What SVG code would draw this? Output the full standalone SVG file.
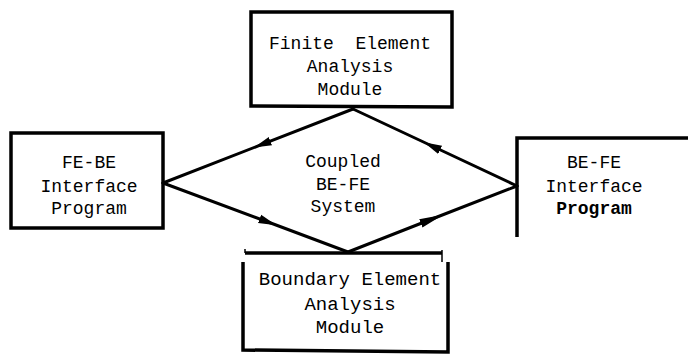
<svg xmlns="http://www.w3.org/2000/svg" width="688" height="358" viewBox="0 0 688 358">
  <style>
    .box { fill: none; stroke: #000; stroke-width: 3.5; stroke-linejoin: miter; }
    .edge { fill: none; stroke: #000; stroke-width: 3; stroke-linecap: round; }
    .lbl { font-family: "Liberation Mono", "Courier New", monospace; font-size: 18px; fill: #000; text-anchor: middle; white-space: pre; }
    .big { font-size: 19px; }
    .heavy { font-weight: bold; }
  </style>
  <defs>
    <marker id="arrow" viewBox="0 0 18 12" refX="9" refY="6" markerWidth="18" markerHeight="12" markerUnits="userSpaceOnUse" orient="auto">
      <path d="M0,1.5 L18,6 L0,10.5 Z" fill="#000"/>
    </marker>
    <marker id="arrowLong" viewBox="0 0 24 12" refX="12" refY="6" markerWidth="24" markerHeight="12" markerUnits="userSpaceOnUse" orient="auto">
      <path d="M0,1.5 L24,6 L0,10.5 Z" fill="#000"/>
    </marker>
  </defs>

  <rect width="688" height="358" fill="#fff"/>

  <!-- connectors: the four sides of the coupling loop -->
  <g id="connectors">
    <path class="edge" d="M353,109 L262,144.4 L163,183" marker-mid="url(#arrow)"/>
    <path class="edge" d="M163,183 L268,222 L348,252" marker-mid="url(#arrow)"/>
    <path class="edge" d="M348,252 L432,219 L517,186" marker-mid="url(#arrowLong)"/>
    <path class="edge" d="M517,186 L432,146 L353,109" marker-mid="url(#arrow)"/>
  </g>

  <g id="fe-module">
    <path class="box" d="M251,12 L452,12 L452,107 L251,106 Z"/>
    <text class="lbl" x="350" y="49">Finite  Element</text>
    <text class="lbl" x="350" y="72">Analysis</text>
    <text class="lbl" x="350" y="95">Module</text>
  </g>

  <g id="fe-be-interface">
    <rect class="box" x="11" y="133" width="152" height="95"/>
    <text class="lbl" x="89" y="168">FE-BE</text>
    <text class="lbl" x="89" y="192">Interface</text>
    <text class="lbl" x="89" y="214">Program</text>
  </g>

  <g id="coupled-system">
    <text class="lbl" x="343" y="167">Coupled</text>
    <text class="lbl" x="343" y="190">BE-FE</text>
    <text class="lbl" x="343" y="212">System</text>
  </g>

  <g id="be-fe-interface">
    <path class="box" d="M692,138 L517,138 L517,237"/>
    <text class="lbl" x="594" y="168">BE-FE</text>
    <text class="lbl" x="594" y="192">Interface</text>
    <text class="lbl heavy" x="594" y="214">Program</text>
  </g>

  <g id="be-module">
    <path class="box" d="M245,253 L442,253"/>
    <path d="M245,253 L245,249 M442,250 L442,262" stroke="#000" stroke-width="1.5" fill="none"/>
    <path class="box" d="M243,262 L243,350 L448,352 L448,262"/>
    <text class="lbl big" x="350" y="285">Boundary Element</text>
    <text class="lbl big" x="350" y="310">Analysis</text>
    <text class="lbl big" x="350" y="333">Module</text>
  </g>
</svg>
